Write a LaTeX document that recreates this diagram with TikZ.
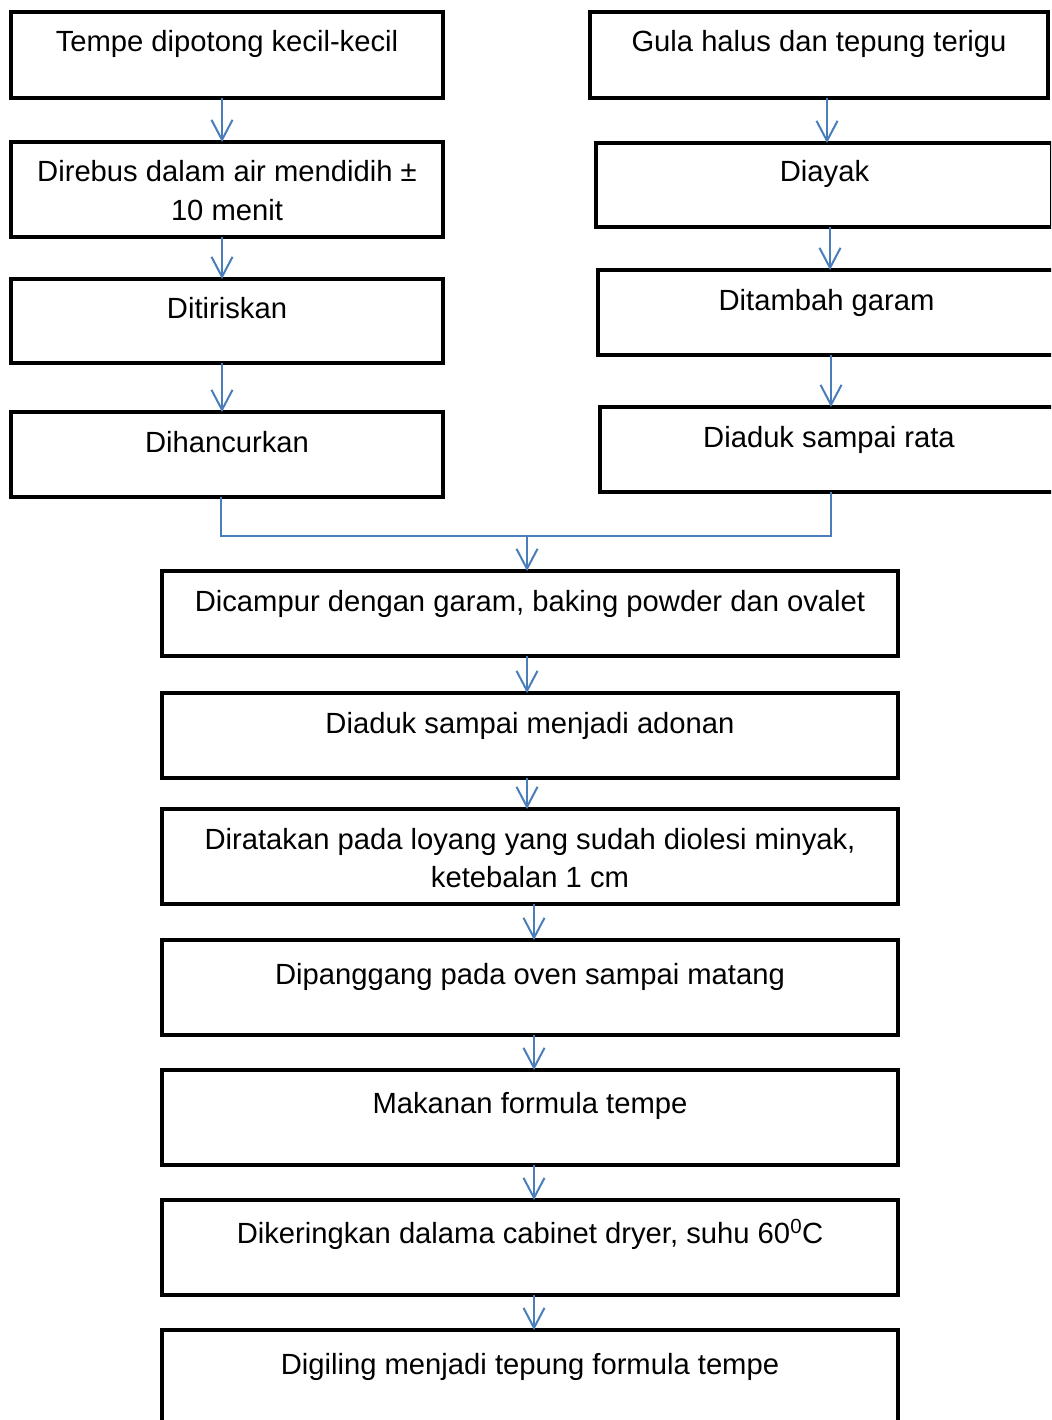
\documentclass[tikz,border=0pt]{standalone}
\usepackage{fontspec}
\setmainfont{Liberation Sans}
\usetikzlibrary{arrows.meta}
\definecolor{arrblue}{HTML}{4A7EBB}
\tikzset{
  bx/.style 2 args={draw=black, line width=4pt, minimum width=#1pt, minimum height=#2pt,
    inner sep=0pt, outer sep=0pt, anchor=north west, fill=white},
  txt/.style={anchor=base, inner sep=0pt, text=black,
    font=\fontsize{29.2pt}{39pt}\selectfont},
  arr/.style={draw=arrblue, line width=2pt,
    -{Straight Barb[length=20pt, width=21pt, line width=2pt]}},
  conn/.style={draw=arrblue, line width=2pt}
}
\begin{document}
\begin{tikzpicture}[x=1pt, y=-1pt]
\useasboundingbox (0,0) rectangle (1051,1420);
\clip (0,0) rectangle (1051,1420);
\fill[white] (0,0) rectangle (1051,1420);
% left column
\node[bx={432}{86}] (L1) at (11,12) {};
\node[bx={432}{95}] (L2) at (11,142) {};
\node[bx={432}{84}] (L3) at (11,279) {};
\node[bx={432}{85}] (L4) at (11,412) {};
% right column
\node[bx={458}{86}] (R1) at (590,12) {};
\node[bx={456}{84}] (R2) at (596,143) {};
\node[bx={457}{85}] (R3) at (598,270) {};
\node[bx={458}{85}] (R4) at (600,407) {};
% centre column
\node[bx={736}{85}] (C1) at (162,571) {};
\node[bx={736}{85}] (C2) at (162,693) {};
\node[bx={736}{95}] (C3) at (162,809) {};
\node[bx={736}{95}] (C4) at (162,940) {};
\node[bx={736}{95}] (C5) at (162,1070) {};
\node[bx={736}{95}] (C6) at (162,1200) {};
\node[bx={736}{130}] (C7) at (162,1330) {};
% texts
\node[txt] (tL1) at (227,52) {Tempe dipotong kecil-kecil};
\node[txt] (tL2a) at (227,182) {Direbus dalam air mendidih ±};
\node[txt] (tL2b) at (227,221) {10 menit};
\node[txt] (tL3) at (227,318) {Ditiriskan};
\node[txt] (tL4) at (227,452) {Dihancurkan};
\node[txt] (tR1) at (819,52) {Gula halus dan tepung terigu};
\node[txt] (tR2) at (824.5,182) {Diayak};
\node[txt] (tR3) at (826.5,310) {Ditambah garam};
\node[txt] (tR4) at (829,447) {Diaduk sampai rata};
\node[txt] (tC1) at (530,611) {Dicampur dengan garam, baking powder dan ovalet};
\node[txt] (tC2) at (530,733) {Diaduk sampai menjadi adonan};
\node[txt] (tC3a) at (530,849) {Diratakan pada loyang yang sudah diolesi minyak,};
\node[txt] (tC3b) at (530,887) {ketebalan 1 cm};
\node[txt] (tC4) at (530,984) {Dipanggang pada oven sampai matang};
\node[txt] (tC5) at (530,1113) {Makanan formula tempe};
\node[txt] (tC6) at (530,1243) {Dikeringkan dalama cabinet dryer, suhu 60\textsuperscript{0}C};
\node[txt] (tC7) at (530,1374) {Digiling menjadi tepung formula tempe};
% x positions of connectors
\coordinate (xL) at (222,0);
\coordinate (xR1) at (827,0);
\coordinate (xR2) at (830,0);
\coordinate (xR3) at (831,0);
\coordinate (xC1) at (527,0);
\coordinate (xC2) at (534,0);
\coordinate (yM) at (0,536);
\coordinate (mL) at (221,0);
% left arrows
\draw[arr] (L1.south -| xL) -- (L2.north -| xL);
\draw[arr] (L2.south -| xL) -- (L3.north -| xL);
\draw[arr] (L3.south -| xL) -- (L4.north -| xL);
% right arrows
\draw[arr] (R1.south -| xR1) -- (R2.north -| xR1);
\draw[arr] (R2.south -| xR2) -- (R3.north -| xR2);
\draw[arr] (R3.south -| xR3) -- (R4.north -| xR3);
% merge
\draw[conn] (L4.south -| mL) -- (yM -| mL) -- (yM -| xR3) -- (R4.south -| xR3);
\draw[arr] (yM -| xC1) -- (C1.north -| xC1);
% centre arrows
\draw[arr] (C1.south -| xC1) -- (C2.north -| xC1);
\draw[arr] (C2.south -| xC1) -- (C3.north -| xC1);
\draw[arr] (C3.south -| xC2) -- (C4.north -| xC2);
\draw[arr] (C4.south -| xC2) -- (C5.north -| xC2);
\draw[arr] (C5.south -| xC2) -- (C6.north -| xC2);
\draw[arr] (C6.south -| xC2) -- (C7.north -| xC2);
\end{tikzpicture}
\end{document}
